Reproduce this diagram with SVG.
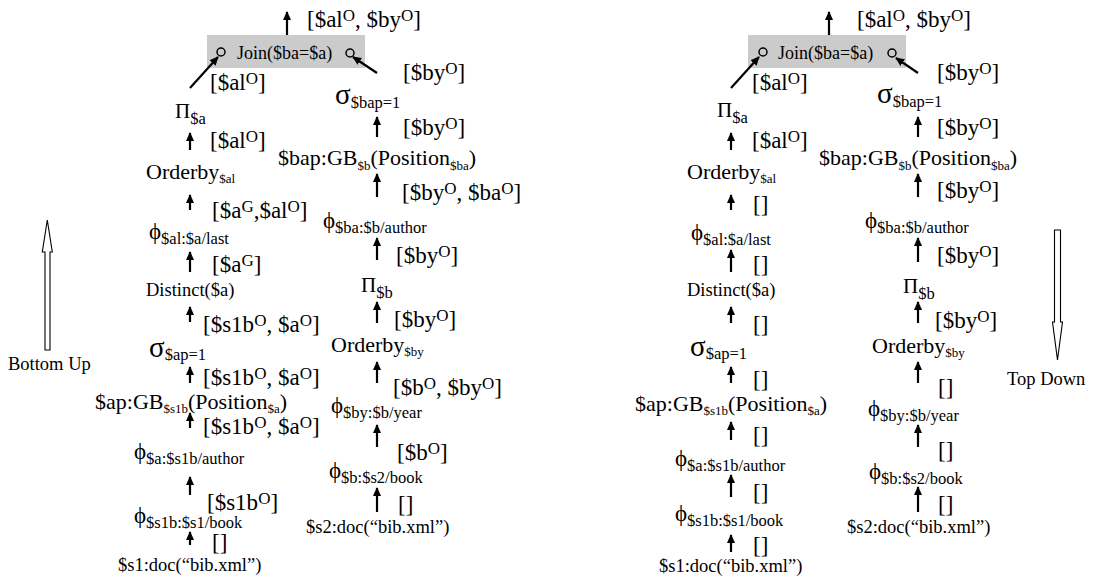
<svg xmlns="http://www.w3.org/2000/svg" width="1093" height="583" viewBox="0 0 1093 583">
  <style>
    text { font-family: "Liberation Serif", "Times New Roman", serif; fill: #000; }
    .n18 { font-size: 18.5px; }
    .n22 { font-size: 22px; }
    .jn { font-size: 18px; }
    .lb { font-size: 23px; }
    .sp { font-size: 17px; }
    .phi { font-size: 23px; }
    .sig { font-size: 29px; }
    .pi { font-size: 21px; }
    .s16 { font-size: 16.5px; }
    .s13 { font-size: 13px; }
    .edge { stroke: #000; stroke-width: 2.2; fill: none; marker-end: url(#head); }
    .port { stroke: #000; stroke-width: 1.5; fill: none; }
    .box { fill: #cbcbcb; }
    .big { fill: #fff; stroke: #000; stroke-width: 1.1; }
  </style>
  <defs>
    <marker id="head" viewBox="0 0 10 10" refX="9" refY="5" markerUnits="userSpaceOnUse" markerWidth="9" markerHeight="9" orient="auto">
      <path d="M0,0.5 L10,5 L0,9.5 z" fill="#000"/>
    </marker>
  </defs>

  <!-- ===================== Bottom-up plan ===================== -->
  <g id="bu-join">
    <rect class="box" x="207" y="35" width="158" height="33"/>
    <circle class="port" cx="221" cy="52" r="4"/>
    <circle class="port" cx="350" cy="53" r="4"/>
    <text class="jn" x="237" y="59">Join($ba=$a)</text>
  </g>
  <g id="bu-pi-a"><text x="175" y="118"><tspan class="pi">Π</tspan><tspan class="s16" dy="6">$a</tspan></text></g>
  <g id="bu-orderby-al"><text class="n22" x="146" y="179">Orderby<tspan class="s13" dy="4">$al</tspan></text></g>
  <g id="bu-phi-al"><text x="149" y="239"><tspan class="phi">ϕ</tspan><tspan class="s16" dy="5">$al:$a/last</tspan></text></g>
  <g id="bu-distinct"><text class="n18" x="146" y="296">Distinct($a)</text></g>
  <g id="bu-sigma-ap"><text x="149" y="357"><tspan class="sig">σ</tspan><tspan class="s16" dy="3">$ap=1</tspan></text></g>
  <g id="bu-gb-ap"><text class="n22" x="95" y="409">$ap:GB<tspan class="s13" dy="4">$s1b</tspan><tspan dy="-4">(Position</tspan><tspan class="s13" dy="4">$a</tspan><tspan dy="-4">)</tspan></text></g>
  <g id="bu-phi-a"><text x="134" y="459"><tspan class="phi">ϕ</tspan><tspan class="s16" dy="5">$a:$s1b/author</tspan></text></g>
  <g id="bu-phi-s1b"><text x="134" y="523"><tspan class="phi">ϕ</tspan><tspan class="s16" dy="5">$s1b:$s1/book</tspan></text></g>
  <g id="bu-doc-s1"><text class="n18" x="118" y="571">$s1:doc(“bib.xml”)</text></g>

  <g id="bu-sigma-bap"><text x="335" y="104"><tspan class="sig">σ</tspan><tspan class="s16" dy="4">$bap=1</tspan></text></g>
  <g id="bu-gb-bap"><text class="n22" x="278" y="165">$bap:GB<tspan class="s13" dy="5">$b</tspan><tspan dy="-5">(Position</tspan><tspan class="s13" dy="5">$ba</tspan><tspan dy="-5">)</tspan></text></g>
  <g id="bu-phi-ba"><text x="323" y="228"><tspan class="phi">ϕ</tspan><tspan class="s16" dy="5">$ba:$b/author</tspan></text></g>
  <g id="bu-pi-b"><text x="361" y="292"><tspan class="pi">Π</tspan><tspan class="s16" dy="6">$b</tspan></text></g>
  <g id="bu-orderby-by"><text class="n22" x="331" y="352">Orderby<tspan class="s13" dy="4">$by</tspan></text></g>
  <g id="bu-phi-by"><text x="331" y="413"><tspan class="phi">ϕ</tspan><tspan class="s16" dy="5">$by:$b/year</tspan></text></g>
  <g id="bu-phi-b"><text x="329" y="478"><tspan class="phi">ϕ</tspan><tspan class="s16" dy="5">$b:$s2/book</tspan></text></g>
  <g id="bu-doc-s2"><text class="n18" x="306" y="533">$s2:doc(“bib.xml”)</text></g>

  <!-- ===================== Top-down plan ===================== -->
  <g id="td-join">
    <rect class="box" x="748" y="35" width="158" height="33"/>
    <circle class="port" cx="763" cy="52" r="4"/>
    <circle class="port" cx="892" cy="53" r="4"/>
    <text class="jn" x="778" y="59">Join($ba=$a)</text>
  </g>
  <g id="td-pi-a"><text x="717" y="117"><tspan class="pi">Π</tspan><tspan class="s16" dy="6">$a</tspan></text></g>
  <g id="td-orderby-al"><text class="n22" x="687" y="179">Orderby<tspan class="s13" dy="4">$al</tspan></text></g>
  <g id="td-phi-al"><text x="691" y="240"><tspan class="phi">ϕ</tspan><tspan class="s16" dy="5">$al:$a/last</tspan></text></g>
  <g id="td-distinct"><text class="n18" x="687" y="296">Distinct($a)</text></g>
  <g id="td-sigma-ap"><text x="690" y="356"><tspan class="sig">σ</tspan><tspan class="s16" dy="3">$ap=1</tspan></text></g>
  <g id="td-gb-ap"><text class="n22" x="635" y="411">$ap:GB<tspan class="s13" dy="4">$s1b</tspan><tspan dy="-4">(Position</tspan><tspan class="s13" dy="4">$a</tspan><tspan dy="-4">)</tspan></text></g>
  <g id="td-phi-a"><text x="675" y="466"><tspan class="phi">ϕ</tspan><tspan class="s16" dy="5">$a:$s1b/author</tspan></text></g>
  <g id="td-phi-s1b"><text x="675" y="521"><tspan class="phi">ϕ</tspan><tspan class="s16" dy="5">$s1b:$s1/book</tspan></text></g>
  <g id="td-doc-s1"><text class="n18" x="659" y="572">$s1:doc(“bib.xml”)</text></g>

  <g id="td-sigma-bap"><text x="877" y="103"><tspan class="sig">σ</tspan><tspan class="s16" dy="4">$bap=1</tspan></text></g>
  <g id="td-gb-bap"><text class="n22" x="819" y="165">$bap:GB<tspan class="s13" dy="5">$b</tspan><tspan dy="-5">(Position</tspan><tspan class="s13" dy="5">$ba</tspan><tspan dy="-5">)</tspan></text></g>
  <g id="td-phi-ba"><text x="865" y="228"><tspan class="phi">ϕ</tspan><tspan class="s16" dy="5">$ba:$b/author</tspan></text></g>
  <g id="td-pi-b"><text x="903" y="293"><tspan class="pi">Π</tspan><tspan class="s16" dy="6">$b</tspan></text></g>
  <g id="td-orderby-by"><text class="n22" x="872" y="353">Orderby<tspan class="s13" dy="4">$by</tspan></text></g>
  <g id="td-phi-by"><text x="868" y="416"><tspan class="phi">ϕ</tspan><tspan class="s16" dy="5">$by:$b/year</tspan></text></g>
  <g id="td-phi-b"><text x="869" y="479"><tspan class="phi">ϕ</tspan><tspan class="s16" dy="5">$b:$s2/book</tspan></text></g>
  <g id="td-doc-s2"><text class="n18" x="847" y="533">$s2:doc(“bib.xml”)</text></g>

  <!-- ===================== Connectors ===================== -->
  <g id="connectors">
    <!-- bottom-up -->
    <line class="edge" x1="287" y1="35" x2="287" y2="12"/>
    <line class="edge" x1="190" y1="88" x2="218" y2="57"/>
    <line class="edge" x1="377" y1="73" x2="353" y2="57"/>
    <line class="edge" x1="190" y1="150" x2="190" y2="133"/>
    <line class="edge" x1="190" y1="210" x2="190" y2="195"/>
    <line class="edge" x1="190" y1="272" x2="190" y2="252"/>
    <line class="edge" x1="190" y1="322" x2="190" y2="307"/>
    <line class="edge" x1="190" y1="383" x2="190" y2="367"/>
    <line class="edge" x1="190" y1="428" x2="190" y2="413"/>
    <line class="edge" x1="190" y1="495" x2="190" y2="477"/>
    <line class="edge" x1="190" y1="545" x2="190" y2="532"/>
    <line class="edge" x1="377" y1="137" x2="377" y2="117"/>
    <line class="edge" x1="377" y1="197" x2="377" y2="174"/>
    <line class="edge" x1="377" y1="260" x2="377" y2="238"/>
    <line class="edge" x1="377" y1="323" x2="377" y2="302"/>
    <line class="edge" x1="377" y1="383" x2="377" y2="362"/>
    <line class="edge" x1="377" y1="447" x2="377" y2="425"/>
    <line class="edge" x1="377" y1="512" x2="377" y2="488"/>
    <!-- top-down -->
    <line class="edge" x1="829" y1="35" x2="829" y2="12"/>
    <line class="edge" x1="731" y1="88" x2="759" y2="57"/>
    <line class="edge" x1="918" y1="73" x2="896" y2="58"/>
    <line class="edge" x1="731" y1="150" x2="731" y2="133"/>
    <line class="edge" x1="731" y1="210" x2="731" y2="195"/>
    <line class="edge" x1="731" y1="272" x2="731" y2="250"/>
    <line class="edge" x1="731" y1="323" x2="731" y2="307"/>
    <line class="edge" x1="731" y1="383" x2="731" y2="367"/>
    <line class="edge" x1="731" y1="440" x2="731" y2="422"/>
    <line class="edge" x1="731" y1="497" x2="731" y2="475"/>
    <line class="edge" x1="731" y1="552" x2="731" y2="535"/>
    <line class="edge" x1="918" y1="137" x2="918" y2="117"/>
    <line class="edge" x1="918" y1="197" x2="918" y2="174"/>
    <line class="edge" x1="918" y1="262" x2="918" y2="238"/>
    <line class="edge" x1="918" y1="323" x2="918" y2="302"/>
    <line class="edge" x1="918" y1="383" x2="918" y2="362"/>
    <line class="edge" x1="918" y1="447" x2="918" y2="425"/>
    <line class="edge" x1="918" y1="512" x2="918" y2="487"/>
  </g>

  <!-- Edge labels: ordering annotations -->
  <g id="edge-labels" class="lb">
    <!-- bottom-up -->
    <text x="307" y="27">[$al<tspan class="sp" dy="-6">O</tspan><tspan dy="6">, $by</tspan><tspan class="sp" dy="-6">O</tspan><tspan dy="6">]</tspan></text>
    <text x="210" y="90">[$al<tspan class="sp" dy="-6">O</tspan><tspan dy="6">]</tspan></text>
    <text x="403" y="80">[$by<tspan class="sp" dy="-6">O</tspan><tspan dy="6">]</tspan></text>
    <text x="210" y="148">[$al<tspan class="sp" dy="-6">O</tspan><tspan dy="6">]</tspan></text>
    <text x="212" y="218">[$a<tspan class="sp" dy="-6">G</tspan><tspan dy="6">,$al</tspan><tspan class="sp" dy="-6">O</tspan><tspan dy="6">]</tspan></text>
    <text x="212" y="272">[$a<tspan class="sp" dy="-6">G</tspan><tspan dy="6">]</tspan></text>
    <text x="203" y="332">[$s1b<tspan class="sp" dy="-6">O</tspan><tspan dy="6">, $a</tspan><tspan class="sp" dy="-6">O</tspan><tspan dy="6">]</tspan></text>
    <text x="203" y="385">[$s1b<tspan class="sp" dy="-6">O</tspan><tspan dy="6">, $a</tspan><tspan class="sp" dy="-6">O</tspan><tspan dy="6">]</tspan></text>
    <text x="203" y="434">[$s1b<tspan class="sp" dy="-6">O</tspan><tspan dy="6">, $a</tspan><tspan class="sp" dy="-6">O</tspan><tspan dy="6">]</tspan></text>
    <text x="207" y="510">[$s1b<tspan class="sp" dy="-6">O</tspan><tspan dy="6">]</tspan></text>
    <text x="212" y="550">[]</text>
    <text x="403" y="135">[$by<tspan class="sp" dy="-6">O</tspan><tspan dy="6">]</tspan></text>
    <text x="402" y="200">[$by<tspan class="sp" dy="-6">O</tspan><tspan dy="6">, $ba</tspan><tspan class="sp" dy="-6">O</tspan><tspan dy="6">]</tspan></text>
    <text x="396" y="263">[$by<tspan class="sp" dy="-6">O</tspan><tspan dy="6">]</tspan></text>
    <text x="394" y="327">[$by<tspan class="sp" dy="-6">O</tspan><tspan dy="6">]</tspan></text>
    <text x="393" y="395">[$b<tspan class="sp" dy="-6">O</tspan><tspan dy="6">, $by</tspan><tspan class="sp" dy="-6">O</tspan><tspan dy="6">]</tspan></text>
    <text x="397" y="460">[$b<tspan class="sp" dy="-6">O</tspan><tspan dy="6">]</tspan></text>
    <text x="398" y="512">[]</text>
    <!-- top-down -->
    <text x="857" y="27">[$al<tspan class="sp" dy="-6">O</tspan><tspan dy="6">, $by</tspan><tspan class="sp" dy="-6">O</tspan><tspan dy="6">]</tspan></text>
    <text x="752" y="90">[$al<tspan class="sp" dy="-6">O</tspan><tspan dy="6">]</tspan></text>
    <text x="937" y="80">[$by<tspan class="sp" dy="-6">O</tspan><tspan dy="6">]</tspan></text>
    <text x="752" y="148">[$al<tspan class="sp" dy="-6">O</tspan><tspan dy="6">]</tspan></text>
    <text x="753" y="212">[]</text>
    <text x="753" y="272">[]</text>
    <text x="753" y="332">[]</text>
    <text x="753" y="387">[]</text>
    <text x="753" y="443">[]</text>
    <text x="753" y="500">[]</text>
    <text x="753" y="553">[]</text>
    <text x="937" y="135">[$by<tspan class="sp" dy="-6">O</tspan><tspan dy="6">]</tspan></text>
    <text x="937" y="198">[$by<tspan class="sp" dy="-6">O</tspan><tspan dy="6">]</tspan></text>
    <text x="937" y="263">[$by<tspan class="sp" dy="-6">O</tspan><tspan dy="6">]</tspan></text>
    <text x="935" y="328">[$by<tspan class="sp" dy="-6">O</tspan><tspan dy="6">]</tspan></text>
    <text x="938" y="395">[]</text>
    <text x="938" y="458">[]</text>
    <text x="938" y="512">[]</text>
  </g>

  <!-- Direction indicators -->
  <g id="dir-bottom-up">
    <path class="big" d="M45,350 L45,252 L42.3,252 L47.3,220 L52.3,252 L50,252 L50,350 Z"/>
    <text class="n18" x="8" y="370">Bottom Up</text>
  </g>
  <g id="dir-top-down">
    <path class="big" d="M1054.5,230 L1054.5,322 L1052.5,322 L1057.5,360 L1062.5,322 L1060.5,322 L1060.5,230 Z"/>
    <text class="n18" x="1007" y="385">Top Down</text>
  </g>
</svg>
